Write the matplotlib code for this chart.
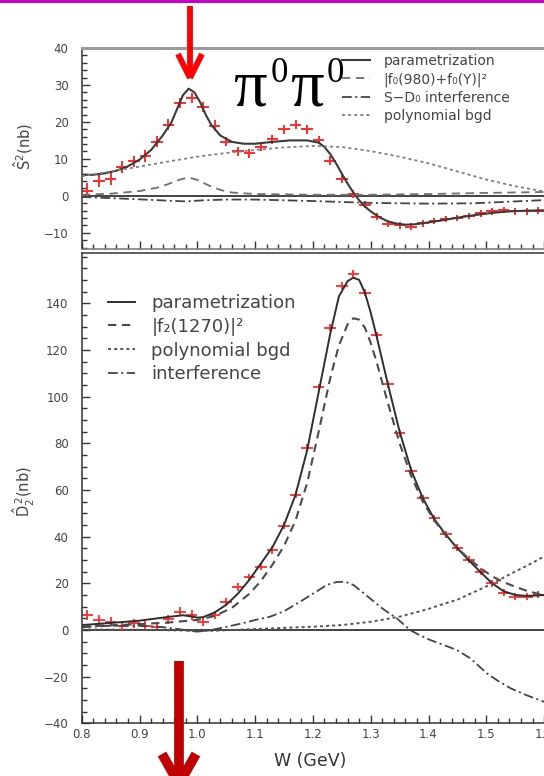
import matplotlib.pyplot as plt
from matplotlib.lines import Line2D
from matplotlib.patches import Rectangle
from matplotlib.ticker import MultipleLocator, FixedLocator

plt.rcParams['font.family'] = ['DejaVu Sans']
plt.rcParams['mathtext.fontset'] = 'dejavusans'
plt.rcParams['lines.scale_dashes'] = False

W_PX, H_PX = 544, 776

# ── measured points: 20 MeV bins ─────────────────────────────────────────────
w_bins = [0.81, 0.83, 0.85, 0.87, 0.89, 0.91, 0.93, 0.95, 0.97, 0.99,
          1.01, 1.03, 1.05, 1.07, 1.09, 1.11, 1.13, 1.15, 1.17, 1.19,
          1.21, 1.23, 1.25, 1.27, 1.29, 1.31, 1.33, 1.35, 1.37, 1.39,
          1.41, 1.43, 1.45, 1.47, 1.49, 1.51, 1.53, 1.55, 1.57, 1.59]

s2_pts = [1.4, 4.1, 4.5, 7.9, 9.3, 10.8, 14.7, 19.2, 25.1, 26.4,
          24.1, 19.0, 14.7, 12.0, 11.5, 13.2, 15.3, 18.0, 19.2, 18.0,
          15.1, 9.5, 4.5, 0.5, -2.4, -5.6, -7.6, -8.0, -8.3, -7.4,
          -6.8, -6.3, -6.0, -5.4, -4.7, -4.2, -3.8, -4.2, -4.2, -4.0]
s2_err = [2.0, 1.8, 1.6, 1.6, 1.6, 1.6, 1.5, 1.5, 1.4, 1.4,
          1.4, 1.4, 1.3, 1.2, 1.2, 1.2, 1.2, 1.2, 1.2, 1.2,
          1.2, 1.2, 1.1, 1.0, 1.0, 1.0, 0.9, 0.9, 0.9, 0.9,
          0.9, 0.9, 0.9, 0.9, 0.9, 0.9, 0.9, 0.9, 0.9, 0.9]

d2_pts = [6.4, 4.3, 3.6, 1.7, 2.9, 1.7, 1.4, 4.6, 7.9, 6.4,
          3.6, 6.4, 12.1, 18.3, 22.6, 27.1, 34.3, 44.6, 57.9, 78.1,
          104.0, 129.6, 147.6, 152.6, 144.6, 126.3, 105.3, 84.3, 68.3, 56.4,
          47.9, 41.0, 35.3, 30.0, 25.0, 20.0, 16.0, 14.3, 14.3, 15.0]
d2_err = [2.2, 2.0, 2.0, 2.0, 2.0, 2.0, 2.0, 2.0, 2.0, 2.0,
          2.0, 1.8, 1.8, 1.8, 1.6, 1.6, 1.6, 1.5, 1.5, 1.5,
          1.5, 1.5, 1.5, 1.5, 1.5, 1.5, 1.5, 1.5, 1.5, 1.5,
          1.5, 1.5, 1.5, 1.5, 1.5, 1.5, 1.5, 1.5, 1.5, 1.5]

# ── S-wave fit components ────────────────────────────────────────────────────
s_fit_w = [0.80, 0.82, 0.84, 0.86, 0.88, 0.90, 0.92, 0.94, 0.955, 0.965,
           0.975, 0.985, 0.995, 1.005, 1.015, 1.025, 1.04, 1.06, 1.08, 1.10,
           1.13, 1.16, 1.19, 1.21, 1.22, 1.23, 1.24, 1.25, 1.26, 1.27,
           1.28, 1.29, 1.30, 1.315, 1.33, 1.345, 1.36, 1.375, 1.39, 1.42,
           1.45, 1.48, 1.51, 1.54, 1.57, 1.60, 1.62]
s_fit = [5.7, 5.7, 6.1, 6.8, 8.0, 9.8, 12.4, 16.3, 19.8, 23.5,
         27.2, 29.0, 28.0, 25.3, 21.8, 19.0, 16.3, 14.6, 14.1, 14.1,
         14.6, 15.0, 15.0, 14.4, 13.2, 11.3, 8.8, 6.0, 3.3, 0.9,
         -1.2, -2.9, -4.2, -5.8, -6.9, -7.5, -7.8, -7.7, -7.4, -6.7,
         -5.9, -5.2, -4.6, -4.2, -4.0, -3.9, -3.8]

s_f0_w = [0.80, 0.85, 0.90, 0.93, 0.95, 0.97, 0.985, 1.00, 1.02, 1.04,
          1.06, 1.10, 1.20, 1.30, 1.40, 1.50, 1.62]
s_f0 = [0.3, 0.6, 1.3, 2.2, 3.2, 4.4, 5.0, 4.3, 2.8, 1.6,
        0.9, 0.5, 0.3, 0.3, 0.5, 0.8, 1.1]

s_int_w = [0.80, 0.88, 0.95, 0.98, 1.01, 1.05, 1.10, 1.20, 1.30, 1.40,
           1.48, 1.55, 1.62]
s_int = [-0.3, -0.8, -1.3, -1.5, -1.2, -1.0, -1.0, -1.4, -1.9, -2.1,
         -2.0, -1.5, -1.0]

s_bgd_w = [0.80, 0.85, 0.90, 0.95, 1.00, 1.05, 1.10, 1.15, 1.20, 1.25,
           1.30, 1.35, 1.40, 1.45, 1.50, 1.55, 1.60, 1.62]
s_bgd = [5.3, 6.6, 7.9, 9.3, 10.6, 11.6, 12.4, 13.1, 13.5, 13.2,
         12.1, 10.6, 8.8, 6.6, 4.4, 2.6, 1.2, 0.8]

# ── D-wave fit components ────────────────────────────────────────────────────
d_fit_w = [0.80, 0.85, 0.90, 0.95, 0.975, 0.99, 1.00, 1.01, 1.03, 1.05,
           1.07, 1.09, 1.11, 1.13, 1.15, 1.17, 1.19, 1.21, 1.23, 1.245,
           1.26, 1.27, 1.28, 1.29, 1.30, 1.31, 1.33, 1.35, 1.37, 1.39,
           1.41, 1.43, 1.45, 1.47, 1.49, 1.51, 1.53, 1.55, 1.57, 1.59, 1.62]
d_fit = [2.1, 3.0, 4.0, 5.6, 6.3, 5.8, 5.3, 5.5, 7.5, 10.8,
         15.5, 21.5, 28.5, 35.5, 45.0, 58.0, 77.0, 102.0, 127.0, 143.0,
         149.5, 151.0, 150.0, 144.5, 136.0, 126.0, 105.0, 85.0, 68.5, 56.5,
         47.5, 40.8, 35.0, 29.8, 24.8, 20.0, 16.6, 15.0, 14.6, 14.8, 15.3]

d_f2_w = [0.80, 0.85, 0.90, 0.95, 1.00, 1.03, 1.06, 1.09, 1.11, 1.13,
          1.15, 1.17, 1.19, 1.21, 1.23, 1.245, 1.26, 1.27, 1.28, 1.29,
          1.30, 1.31, 1.33, 1.35, 1.37, 1.39, 1.41, 1.43, 1.45, 1.47,
          1.49, 1.51, 1.53, 1.55, 1.57, 1.60, 1.62]
d_f2 = [1.5, 2.0, 2.5, 3.2, 4.3, 6.0, 9.5, 15.5, 21.0, 28.0,
        36.0, 47.0, 63.0, 85.0, 108.0, 122.0, 131.0, 133.6, 133.0, 129.5,
        123.0, 115.0, 97.0, 80.0, 66.0, 55.0, 47.0, 40.5, 35.0, 30.5,
        26.5, 23.0, 20.5, 18.5, 16.8, 14.8, 13.8]

d_bgd_w = [0.80, 0.90, 0.97, 1.00, 1.03, 1.06, 1.10, 1.13, 1.20, 1.25,
           1.30, 1.35, 1.40, 1.42, 1.45, 1.48, 1.51, 1.54, 1.57, 1.60, 1.62]
d_bgd = [0.2, 0.1, -0.2, -0.5, -0.3, 0.0, 0.4, 0.7, 1.4, 2.1,
         3.5, 5.7, 9.0, 10.7, 13.0, 16.4, 19.8, 23.8, 27.5, 31.5, 34.0]

d_int_w = [0.80, 0.85, 0.90, 0.94, 0.97, 0.99, 1.00, 1.02, 1.05, 1.08,
           1.10, 1.126, 1.15, 1.183, 1.205, 1.224, 1.24, 1.256, 1.27, 1.281,
           1.30, 1.316, 1.33, 1.345, 1.368, 1.385, 1.403, 1.425, 1.449, 1.472,
           1.501, 1.52, 1.542, 1.57, 1.599, 1.62]
d_int = [1.2, 1.8, 1.8, 1.2, 0.3, -0.5, -0.7, -0.2, 1.3, 3.0,
         4.3, 5.7, 8.0, 12.9, 16.3, 19.3, 20.5, 20.7, 19.3, 17.1,
         13.3, 10.0, 7.5, 5.0, 0.0, -2.3, -4.3, -6.3, -8.6, -12.1,
         -18.6, -21.8, -25.0, -28.0, -30.7, -32.0]

DASHED = (0, (6, 4))
SHORT = (0, (2.2, 2.2))
DASHDOT = (0, (7, 2.5, 1.5, 2.5))
RED = '#ff2a2a'
INK = '#333333'


def fpos(x, y):
    """pixel position (origin top-left) -> figure fraction"""
    return x / W_PX, 1 - y / H_PX


def style_axis(ax):
    ax.set_xlim(0.8, 1.62)
    ax.xaxis.set_major_locator(MultipleLocator(0.1))
    ax.xaxis.set_minor_locator(MultipleLocator(0.02))
    ax.tick_params(which='both', direction='in', color=INK, width=1.0,
                   labelsize=8.5, labelcolor='#444444')
    ax.tick_params(which='major', length=6)
    ax.tick_params(which='minor', length=3.5)
    ax.tick_params(axis='y', pad=9.5)
    ax.tick_params(axis='x', pad=3.5)
    ax.spines['right'].set_visible(False)
    for s in ('left', 'bottom', 'top'):
        ax.spines[s].set_color(INK)
        ax.spines[s].set_linewidth(1.1)
    ax.axhline(0, color='#222222', lw=1.2, zorder=1)


fig = plt.figure(figsize=(W_PX / 100, H_PX / 100), dpi=100)
ax_s = fig.add_axes([0.1502, 0.6785, 0.8713, 0.2597])
ax_d = fig.add_axes([0.1502, 0.0679, 0.8713, 0.6065])

# ── S-wave panel ─────────────────────────────────────────────────────────────
style_axis(ax_s)
ax_s.set_ylim(-14.5, 40)
ax_s.yaxis.set_major_locator(MultipleLocator(10))
ax_s.yaxis.set_minor_locator(MultipleLocator(2))
ax_s.tick_params(axis='x', labelbottom=False)
ax_s.spines['top'].set_color('#9a9a9a')
ax_s.spines['top'].set_linewidth(2.2)
ax_s.spines['bottom'].set_color('#777777')

ax_s.errorbar(w_bins, s2_pts, xerr=0.01, yerr=s2_err, fmt='none',
              ecolor=RED, elinewidth=1.4, capsize=0, zorder=2)
ax_s.plot(s_fit_w, s_fit, color='#3a3a3a', lw=1.5, zorder=3,
          label='parametrization')
ax_s.plot(s_f0_w, s_f0, color='#707070', lw=1.3, ls=DASHED, zorder=3,
          label='|f\u2080(980)+f\u2080(Y)|\u00b2')
ax_s.plot(s_int_w, s_int, color='#444444', lw=1.3, ls=DASHDOT, zorder=3,
          label='S\u2212D\u2080 interference')
ax_s.plot(s_bgd_w, s_bgd, color='#808080', lw=1.3, ls=SHORT, zorder=3,
          label='polynomial bgd')
ax_s.set_ylabel(r'$\hat{\mathrm{S}}^2$(nb)', fontsize=10.5, color='#444444')
ax_s.yaxis.set_label_coords(-0.098, 0.513)

leg_s = ax_s.legend(loc='upper left', bbox_to_anchor=fpos(342, 54),
                    bbox_transform=fig.transFigure, frameon=False,
                    fontsize=10, handlelength=2.0, handletextpad=1.0,
                    labelspacing=0.3, borderpad=0, borderaxespad=0)
for t in leg_s.get_texts():
    t.set_color('#444444')

# ── D-wave panel ─────────────────────────────────────────────────────────────
style_axis(ax_d)
ax_d.set_ylim(-40, 161.7)
ax_d.yaxis.set_major_locator(FixedLocator([-40, -20, 0, 20, 40, 60, 80, 100, 120, 140]))
ax_d.yaxis.set_minor_locator(MultipleLocator(5))
ax_d.tick_params(axis='x', labelbottom=True)

ax_d.errorbar(w_bins, d2_pts, xerr=0.01, yerr=d2_err, fmt='none',
              ecolor=RED, elinewidth=1.3, capsize=0, zorder=2)
ax_d.plot(d_fit_w, d_fit, color='#2e2e2e', lw=1.4, zorder=3,
          label='parametrization')
ax_d.plot(d_f2_w, d_f2, color='#4a4a4a', lw=1.5, ls=DASHED, zorder=3,
          label='|f\u2082(1270)|\u00b2')
ax_d.plot(d_bgd_w, d_bgd, color='#555555', lw=1.4, ls=SHORT, zorder=3,
          label='polynomial bgd')
ax_d.plot(d_int_w, d_int, color='#444444', lw=1.3, ls=DASHDOT, zorder=3,
          label='interference')
ax_d.set_ylabel(r'$\hat{\mathrm{D}}_2^{\,2}$(nb)', fontsize=10.5, color='#444444')
ax_d.yaxis.set_label_coords(-0.094, 0.4926)
ax_d.set_xlabel('W (GeV)', fontsize=12.5, color=INK)
ax_d.xaxis.set_label_coords(0.482, -0.062)

leg_d = ax_d.legend(loc='upper left', bbox_to_anchor=fpos(108, 294),
                    bbox_transform=fig.transFigure, frameon=False,
                    fontsize=13, handlelength=1.5, handletextpad=0.9,
                    labelspacing=0.32, borderpad=0, borderaxespad=0)
for t in leg_d.get_texts():
    t.set_color('#444444')

# ── decorations: channel label, arrows, top rule ─────────────────────────────
serif = ['Liberation Serif', 'DejaVu Serif']
for x0, xs in ((233, 271), (290, 327)):
    fig.text(*fpos(x0, 105), '\u03c0', fontsize=48, family=serif,
             ha='left', va='baseline')
    fig.text(*fpos(xs, 82), '0', fontsize=25, family=serif,
             ha='left', va='baseline')

fig.add_artist(Rectangle(fpos(0, 2.5), 1, 2.5 / H_PX, transform=fig.transFigure,
                         color='#c800c8', lw=0))


def arrow(x, y0, y1, arm_dx, arm_dy, color, lw):
    pts = [((x, y0), (x, y1)),
           ((x - arm_dx, y1 - arm_dy), (x, y1)),
           ((x + arm_dx, y1 - arm_dy), (x, y1))]
    for (xa, ya), (xb, yb) in pts:
        (fa, ga), (fb, gb) = fpos(xa, ya), fpos(xb, yb)
        fig.add_artist(Line2D([fa, fb], [ga, gb], transform=fig.transFigure,
                              color=color, lw=lw, solid_capstyle='butt'))


arrow(190, 6, 78, 12, 24, '#ff0000', 4.2)
arrow(179, 661, 784, 17, 30, '#c00000', 7.0)

fig.savefig('out.png', dpi=100)
